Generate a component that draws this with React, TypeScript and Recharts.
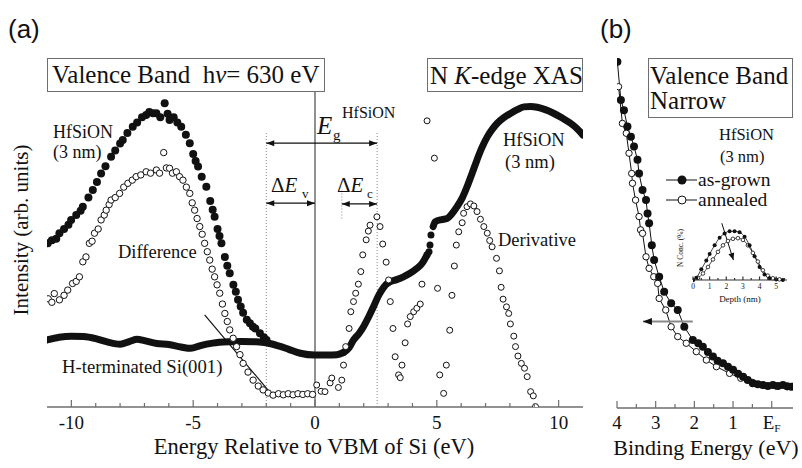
import React from 'react';
import { ComposedChart, Scatter, Line, XAxis, YAxis, ReferenceLine } from 'recharts';

const serif = '"Liberation Serif", "Times New Roman", serif';
const sans = '"Liberation Sans", Arial, sans-serif';
const frame = '#6e6e6e';
const ink = '#111';

// ---------- panel (a): energy relative to VBM of Si (eV) vs intensity (arb. units) ----------
const vbHfSiON = [
  [-10.97, 46.9], [-10.8, 47.8], [-10.62, 48.2], [-10.49, 49.8], [-10.3, 51], [-10.12, 52.2], [-10.01, 53.6],
  [-9.8, 55], [-9.62, 56.2], [-9.53, 57.4], [-9.3, 60], [-9.12, 62.2], [-8.95, 64.5], [-8.78, 66.9], [-8.6, 69],
  [-8.37, 71.7], [-8.2, 73.5], [-8.0, 75.5], [-7.89, 76.5], [-7.7, 78.5], [-7.48, 80.3], [-7.3, 81.5], [-7.1, 83],
  [-6.93, 83.7], [-6.8, 84.5], [-6.65, 84.2], [-6.51, 84.2], [-6.35, 83], [-6.17, 87], [-6.05, 84], [-5.97, 82.2],
  [-5.8, 83], [-5.65, 81.5], [-5.49, 80.3], [-5.3, 78], [-5.14, 75.6], [-5.0, 72.5], [-4.9, 70.5], [-4.8, 68.9],
  [-4.65, 66], [-4.46, 63.1], [-4.3, 59], [-4.2, 56.5], [-4.12, 54.5], [-4.0, 51], [-3.92, 49], [-3.84, 46.9],
  [-3.7, 43], [-3.6, 40.5], [-3.5, 38.3], [-3.35, 35], [-3.25, 33], [-3.16, 30.7], [-3.05, 28.8], [-2.95, 27],
  [-2.8, 25], [-2.67, 24], [-2.55, 23], [-2.45, 22.5], [-2.26, 21.1], [-2.1, 20], [-1.99, 19.2],
];
const vbDifference = [
  [-10.95, 31], [-10.8, 30], [-10.7, 32.5], [-10.49, 30.7], [-10.3, 32], [-10.15, 33.5], [-9.95, 35.4],
  [-9.8, 36], [-9.67, 37.3], [-9.53, 41.6], [-9.4, 43], [-9.26, 46.9], [-9.15, 47.5], [-9.05, 49.8], [-8.9, 51],
  [-8.78, 53.6], [-8.65, 55], [-8.57, 56.4], [-8.45, 58], [-8.37, 59.3], [-8.2, 60], [-8.02, 61.2], [-7.85, 63],
  [-7.68, 64.1], [-7.5, 65], [-7.34, 66], [-7.15, 66.5], [-6.93, 67.4], [-6.75, 67], [-6.51, 67.9], [-6.38, 67],
  [-6.21, 72.9], [-6.1, 68.5], [-5.97, 68.4], [-5.85, 67], [-5.69, 67.4], [-5.56, 66], [-5.42, 65], [-5.28, 63],
  [-5.14, 61.2], [-5.04, 58.5], [-4.94, 56.4], [-4.84, 54], [-4.73, 51.7], [-4.63, 49.5], [-4.53, 46.9],
  [-4.42, 44.5], [-4.32, 42.1], [-4.22, 39.5], [-4.12, 37.3], [-4.02, 35], [-3.91, 32.6], [-3.8, 29.5],
  [-3.7, 26.8], [-3.6, 24.5], [-3.5, 22.1], [-3.36, 19.7], [-3.22, 17.3], [-3.08, 15], [-2.95, 12.5],
  [-2.75, 10], [-2.54, 7.7], [-2.33, 6], [-2.13, 4.9], [-1.92, 4], [-1.72, 3.4], [-1.5, 3.8], [-1.3, 3.5],
  [-1.1, 3.8], [-0.9, 3.5], [-0.7, 3.8], [-0.5, 3.6], [-0.3, 3.8], [-0.1, 3.6],
];
const hTerminatedSi = [
  [-11.0, 19.2], [-10.5, 20.0], [-10.0, 20.3], [-9.5, 20.2], [-9.0, 19.6], [-8.5, 18.6], [-8.0, 18.0],
  [-7.6, 18.8], [-7.3, 19.4], [-7.0, 19.0], [-6.5, 18.2], [-6.0, 17.9], [-5.5, 17.2], [-5.1, 16.8], [-4.7, 17.6],
  [-4.2, 18.3], [-3.5, 18.7], [-3.0, 18.8], [-2.5, 18.7], [-2.0, 18.4], [-1.5, 17.5], [-1.1, 16.6], [-0.6, 15.4],
  [0, 14.9], [0.5, 14.9], [0.9, 15.0], [1.17, 15.6],
];
const tangentVB = [[-4.53, 26.4], [-1.85, 4.2], [-0.2, 4.0]];
const xasLow = [
  [1.17, 15.6], [1.4, 17], [1.58, 19.2], [1.8, 21], [1.99, 23], [2.2, 25.8], [2.4, 28.7], [2.6, 31.8],
  [2.74, 33.5], [2.9, 35], [3.09, 35.9], [3.35, 36.5], [3.63, 37.3], [3.9, 38.3], [4.18, 39.7], [4.4, 41.2], [4.6, 43.6],
];
const xasStep = [[4.6, 43.6], [4.68, 44.5], [4.72, 46.4], [4.76, 49.3]];
const xasHigh = [
  [4.85, 51.7], [4.94, 53.1], [5.2, 53.7], [5.42, 54], [5.6, 55.2], [5.83, 57.4], [6.05, 60], [6.24, 63.1],
  [6.45, 67], [6.65, 70.8], [6.85, 74.3], [7.07, 77.4], [7.28, 79.6], [7.48, 81.3], [7.75, 82.9], [8.02, 84.1],
  [8.3, 85.2], [8.57, 86], [8.85, 86.1], [9.12, 85.9], [9.45, 85.2], [9.81, 84.1], [10.15, 82.8], [10.49, 81.3],
  [10.75, 79.8], [11.0, 77.9],
];
const xasDerivative = [
  [0.07, 6.3], [0.25, 4.5], [0.41, 4.4], [0.62, 6.9], [0.69, 8.3], [0.96, 5.6], [1.1, 7.7], [1.17, 12],
  [1.26, 17.3], [1.4, 22.5], [1.47, 27.3], [1.58, 30.2], [1.67, 32.6], [1.78, 35.2], [1.88, 38.8], [1.96, 43.6],
  [2.1, 47.9], [2.19, 50.4], [2.26, 52.1], [2.54, 54.5], [2.67, 51.7], [2.78, 46.7], [2.92, 41.5], [3.02, 36.4],
  [3.09, 30.2], [3.2, 22.5], [3.29, 14.4], [3.43, 9.2], [3.5, 8.4], [3.57, 12], [3.7, 18.4], [3.8, 23.8],
  [3.91, 25.9], [4.05, 27.3], [4.18, 28.3], [4.32, 29.5], [4.39, 35.2], [4.6, 82], [4.9, 71.3], [5.03, 34],
  [5.12, 9.2], [5.28, 3.9], [5.39, 12], [5.53, 22], [5.62, 32], [5.72, 40.4], [5.8, 46.4], [5.9, 50.2],
  [6.04, 52.8], [6.1, 55.5], [6.24, 57.4], [6.38, 58.2], [6.52, 57.6], [6.65, 56], [6.79, 53.8], [6.93, 51.7],
  [7.07, 49.8], [7.17, 47.7], [7.27, 45.9], [7.45, 42.6], [7.57, 39], [7.64, 34.3], [7.72, 30.9], [7.86, 28.7],
  [7.95, 26.8], [8.02, 23.8], [8.16, 20.3], [8.23, 17.3], [8.33, 14.6], [8.47, 12.5], [8.6, 11.1], [8.71, 8.7],
  [8.85, 4.4], [8.96, 3.2], [9.05, 0.1],
];
const aMinorTicks = [-10, -9, -8, -7, -6, -5, -4, -3, -2, -1, 0, 1, 2, 3, 4, 5, 6, 7, 8, 9, 10];
const aTickValues = [-10, -5, 0, 5, 10];
const aTickLabels = ['-10', '-5', '0', '5', '10'];

// ---------- panel (b): binding energy (eV) ----------
const asGrown = [
  [3.99, 98.9], [3.9, 88], [3.82, 85.1], [3.73, 80.4], [3.64, 77.5], [3.56, 74.7], [3.47, 70.9], [3.43, 67],
  [3.34, 62.3], [3.25, 59.4], [3.21, 55.6], [3.17, 52.8], [3.1, 46.5], [3.04, 42.3], [2.91, 37.5], [2.78, 33.2],
  [2.6, 29.9], [2.43, 28], [2.26, 23.2], [2.04, 19.4], [1.9, 18.5], [1.78, 17.5], [1.65, 16], [1.52, 14.7],
  [1.4, 13.5], [1.26, 12.8], [1.13, 11.8], [1.0, 10.9], [0.87, 9.8], [0.74, 8.9], [0.62, 8], [0.49, 7.1],
  [0.36, 6.8], [0.23, 6.6], [0.1, 6.3], [-0.03, 6.6], [-0.16, 6.3], [-0.29, 6.6], [-0.4, 6.2], [-0.51, 6.1],
];
const annealed = [
  [3.96, 91.8], [3.86, 81.3], [3.76, 78.5], [3.69, 72.8], [3.62, 67], [3.6, 64.2], [3.52, 59.4], [3.43, 54.7],
  [3.39, 50.9], [3.34, 49.9], [3.25, 43.2], [3.17, 39.9], [3.05, 37.5], [2.95, 35.6], [2.91, 31.3], [2.74, 28],
  [2.6, 23.2], [2.43, 20.4], [2.21, 18.5], [1.95, 16.1], [1.69, 13.7], [1.43, 11.8], [1.09, 9.9], [0.8, 8.5],
  [0.5, 7.3], [0.2, 6.5], [-0.1, 6.3], [-0.4, 6.1],
];
const bMinorTicks = [4, 3.5, 3, 2.5, 2, 1.5, 1, 0.5, 0];
const bTickValues = [4, 3, 2, 1, 0];
const bTickLabels = ['4', '3', '2', '1', 'EF'];

// ---------- inset: N concentration (%) vs depth (nm) ----------
const depthAsGrown = [
  [0, 0], [0.2, 1], [0.5, 5], [0.8, 9], [1.0, 12], [1.3, 16], [1.6, 19.5], [1.9, 21.5], [2.2, 22.5], [2.5, 22.5],
  [2.8, 22], [3.1, 20], [3.4, 16], [3.7, 11], [4.0, 6], [4.3, 2.5], [4.6, 0.8], [5.0, 0.2], [5.4, 0],
];
const depthAnnealed = [
  [0, 0], [0.3, 1], [0.6, 3], [0.9, 6], [1.2, 9.5], [1.5, 13], [1.8, 16], [2.1, 18], [2.4, 19], [2.7, 19.3],
  [3.0, 18.5], [3.3, 16], [3.6, 12.5], [3.9, 8.5], [4.2, 4.5], [4.5, 2], [4.8, 0.8], [5.2, 0.3],
];
const insetXMinor = [0, 0.5, 1, 1.5, 2, 2.5, 3, 3.5, 4, 4.5, 5, 5.5];
const insetXValues = [0, 1, 2, 3, 4, 5];
const insetXLabels = ['0', '1', '2', '3', '4', '5'];
const insetYMinor = [0, 5, 10, 15, 20, 25, 30];
const insetYValues = [0, 10, 20, 30];
const insetYLabels = ['0', '10', '20', '30'];

const toPts = (a: number[][]) => a.map(([x, y]) => ({ x, y }));
const labelMap = (vals: number[], labs: string[]) => {
  const m: Record<string, string> = {};
  vals.forEach((v, i) => (m[String(v)] = labs[i]));
  return m;
};

const renderLabel = (lab: string, size: number) =>
  lab === 'EF' ? (
    <>E<tspan dy={3} fontSize={size * 0.6}>F</tspan></>
  ) : (
    lab
  );

// ticks pointing into the plot; dir 1 = bottom axis, -1 = top axis
const xTick = (labels: Record<string, string>, major: number, minor: number, size: number, dir: number, gap: number, show: boolean, col = frame) =>
  (p: any) => {
    const lab = labels[String(p.payload.value)];
    const len = lab !== undefined ? major : minor;
    return (
      <g>
        <line x1={p.x} x2={p.x} y1={p.y} y2={p.y - dir * len} stroke={col} strokeWidth={1.2} />
        {show && lab !== undefined && (
          <text x={p.x} y={p.y + gap} textAnchor="middle" fontFamily={serif} fontSize={size} fill={ink}>
            {renderLabel(lab, size)}
          </text>
        )}
      </g>
    );
  };
const yTick = (labels: Record<string, string>, major: number, minor: number, size: number, dir: number, show: boolean) =>
  (p: any) => {
    const lab = labels[String(p.payload.value)];
    const len = lab !== undefined ? major : minor;
    return (
      <g>
        <line x1={p.x} x2={p.x + dir * len} y1={p.y} y2={p.y} stroke="#333" strokeWidth={0.9} />
        {show && lab !== undefined && (
          <text x={p.x - 2} y={p.y + 2.5} textAnchor="end" fontFamily={serif} fontSize={size} fill={ink}>
            {lab}
          </text>
        )}
      </g>
    );
  };

const filledDot = (r: number) => (p: any) => <circle cx={p.cx} cy={p.cy} r={r} fill={ink} />;
const openDot = (r: number, sw = 1) => (p: any) => (
  <circle cx={p.cx} cy={p.cy} r={r} fill="#fff" stroke={ink} strokeWidth={sw} />
);

const arrow = (atStart: boolean, atEnd: boolean, color: string, sw: number, len = 8, half = 3, headColor = ink) =>
  (p: any) => {
    const { x1, y1, x2, y2 } = p;
    const head = (tx: number, ty: number, fx: number, fy: number) => {
      const L = Math.hypot(tx - fx, ty - fy) || 1;
      const ux = (tx - fx) / L;
      const uy = (ty - fy) / L;
      const bx = tx - ux * len;
      const by = ty - uy * len;
      return `${tx},${ty} ${bx - uy * half},${by + ux * half} ${bx + uy * half},${by - ux * half}`;
    };
    return (
      <g>
        <line x1={x1} y1={y1} x2={x2} y2={y2} stroke={color} strokeWidth={sw} />
        {atStart && <polygon points={head(x1, y1, x2, y2)} fill={headColor} />}
        {atEnd && <polygon points={head(x2, y2, x1, y1)} fill={headColor} />}
      </g>
    );
  };

const T = (props: { x: number; y: number; size: number; children: React.ReactNode; font?: string; style?: React.CSSProperties }) => (
  <div
    style={{
      position: 'absolute', left: props.x, top: props.y, fontSize: props.size, lineHeight: 1,
      fontFamily: props.font || serif, color: ink, whiteSpace: 'nowrap', ...props.style,
    }}
  >
    {props.children}
  </div>
);

const aLabels = labelMap(aTickValues, aTickLabels);
const bLabels = labelMap(bTickValues, bTickLabels);
const ixLabels = labelMap(insetXValues, insetXLabels);
const iyLabels = labelMap(insetYValues, insetYLabels);
const axisStyle = { stroke: frame, strokeWidth: 1.5 };
const insetAxis = { stroke: '#333', strokeWidth: 1.1 };
const abs: React.CSSProperties = { position: 'absolute', left: 0, top: 0 };
const boxStyle = (l: number, t: number, w: number, h: number): React.CSSProperties => ({
  position: 'absolute', left: l, top: t, width: w, height: h, border: `1.5px solid ${frame}`, background: '#fff', boxSizing: 'border-box',
});

export default function App() {
  return (
    <div style={{ position: 'absolute', left: 0, top: 0, width: 802, height: 468, background: '#fff', overflow: 'hidden' }}>
      {/* panel (a) */}
      <div style={abs}>
        <ComposedChart width={802} height={468} margin={{ top: 58, right: 219, bottom: 31, left: 47 }}>
          <XAxis xAxisId="b" type="number" dataKey="x" domain={[-11, 11]} ticks={aMinorTicks} interval={0}
            tickLine={false} tickSize={0} tickMargin={0} height={30} axisLine={axisStyle} allowDataOverflow
            tick={xTick(aLabels, 7, 4, 19, 1, 22, true)} />
          <XAxis xAxisId="t" orientation="top" type="number" dataKey="x" domain={[-11, 11]} ticks={aMinorTicks}
            interval={0} tickLine={false} tickSize={0} tickMargin={0} height={0} axisLine={axisStyle} allowDataOverflow
            tick={xTick(aLabels, 6, 4, 19, -1, 0, false)} />
          <YAxis yAxisId="l" type="number" dataKey="y" domain={[0, 100]} width={0} tick={false} tickLine={false} axisLine={axisStyle} allowDataOverflow />
          <YAxis yAxisId="r" orientation="right" type="number" domain={[0, 100]} width={0} tick={false} tickLine={false} axisLine={axisStyle} />

          <ReferenceLine xAxisId="b" yAxisId="l" segment={[{ x: 0, y: 0 }, { x: 0, y: 90.3 }]} stroke="#555" strokeWidth={1.3} ifOverflow="visible" />
          <ReferenceLine xAxisId="b" yAxisId="l" segment={[{ x: -2, y: 0 }, { x: -2, y: 78.5 }]} stroke="#888" strokeWidth={1} strokeDasharray="1 2" ifOverflow="visible" />
          <ReferenceLine xAxisId="b" yAxisId="l" segment={[{ x: 2.55, y: 0 }, { x: 2.55, y: 79 }]} stroke="#888" strokeWidth={1} strokeDasharray="1 2" ifOverflow="visible" />
          <ReferenceLine xAxisId="b" yAxisId="l" segment={[{ x: 1.1, y: 54 }, { x: 1.1, y: 62.5 }]} stroke="#888" strokeWidth={1} strokeDasharray="1 2" ifOverflow="visible" />

          <Line xAxisId="b" yAxisId="l" data={toPts(hTerminatedSi)} dataKey="y" type="monotone" stroke={ink} strokeWidth={7} strokeLinecap="round" dot={false} isAnimationActive={false} />
          <Scatter xAxisId="b" yAxisId="l" data={toPts(vbHfSiON)} dataKey="y" shape={filledDot(4)} isAnimationActive={false} />
          <Line xAxisId="b" yAxisId="l" data={toPts(tangentVB)} dataKey="y" type="linear" stroke={ink} strokeWidth={1.2} dot={false} isAnimationActive={false} />
          <Scatter xAxisId="b" yAxisId="l" data={toPts(vbDifference)} dataKey="y" shape={openDot(3.2)} isAnimationActive={false} />
          <Scatter xAxisId="b" yAxisId="l" data={toPts(xasDerivative)} dataKey="y" shape={openDot(3)} isAnimationActive={false} />
          <Line xAxisId="b" yAxisId="l" data={toPts(xasLow)} dataKey="y" type="monotone" stroke={ink} strokeWidth={7} strokeLinecap="round" dot={false} isAnimationActive={false} />
          <Scatter xAxisId="b" yAxisId="l" data={toPts(xasStep)} dataKey="y" shape={filledDot(3.5)} isAnimationActive={false} />
          <Line xAxisId="b" yAxisId="l" data={toPts(xasHigh)} dataKey="y" type="monotone" stroke={ink} strokeWidth={7} strokeLinecap="round" dot={false} isAnimationActive={false} />

          <ReferenceLine xAxisId="b" yAxisId="l" segment={[{ x: -2, y: 75.6 }, { x: 2.55, y: 75.6 }]} shape={arrow(true, true, ink, 1.2)} ifOverflow="visible" />
          <ReferenceLine xAxisId="b" yAxisId="l" segment={[{ x: -2, y: 58.4 }, { x: 0, y: 58.4 }]} shape={arrow(true, true, ink, 1.2)} ifOverflow="visible" />
          <ReferenceLine xAxisId="b" yAxisId="l" segment={[{ x: 1.1, y: 58.2 }, { x: 2.55, y: 58.2 }]} shape={arrow(true, true, ink, 1.2)} ifOverflow="visible" />
        </ComposedChart>
      </div>

      {/* panel (b) */}
      <div style={abs}>
        <ComposedChart width={802} height={468} margin={{ top: 58, right: 9, bottom: 30, left: 617 }}>
          <XAxis xAxisId="b" type="number" dataKey="x" domain={[-0.55, 4]} reversed ticks={bMinorTicks} interval={0}
            tickLine={false} tickSize={0} tickMargin={0} height={30} axisLine={axisStyle} allowDataOverflow
            tick={xTick(bLabels, 7, 4, 19, 1, 21, true)} />
          <XAxis xAxisId="t" orientation="top" type="number" dataKey="x" domain={[-0.55, 4]} reversed ticks={bMinorTicks}
            interval={0} tickLine={false} tickSize={0} tickMargin={0} height={0} axisLine={axisStyle} allowDataOverflow
            tick={xTick(bLabels, 6, 4, 19, -1, 0, false)} />
          <YAxis yAxisId="l" type="number" dataKey="y" domain={[0, 100]} width={0} tick={false} tickLine={false} axisLine={axisStyle} allowDataOverflow />
          <YAxis yAxisId="r" orientation="right" type="number" domain={[0, 100]} width={0} tick={false} tickLine={false} axisLine={axisStyle} />

          <Line xAxisId="b" yAxisId="l" data={toPts(annealed)} dataKey="y" type="linear" stroke={ink} strokeWidth={1}
            dot={{ r: 3.2, fill: '#fff', stroke: ink, strokeWidth: 1 }} isAnimationActive={false} />
          <Line xAxisId="b" yAxisId="l" data={toPts(asGrown)} dataKey="y" type="linear" stroke={ink} strokeWidth={1}
            dot={{ r: 4, fill: ink, stroke: ink, strokeWidth: 0 }} isAnimationActive={false} />
          <ReferenceLine xAxisId="b" yAxisId="l" segment={[{ x: 2.04, y: 24.7 }, { x: 3.33, y: 24.7 }]} shape={arrow(false, true, '#8a8a8a', 2, 9, 3.5)} ifOverflow="visible" />
        </ComposedChart>
      </div>

      {/* inset */}
      <div style={abs}>
        <ComposedChart width={802} height={468} margin={{ top: 215, right: 15, bottom: 176, left: 693 }}>
          <XAxis xAxisId="b" type="number" dataKey="x" domain={[0, 5.65]} ticks={insetXMinor} interval={0}
            tickLine={false} tickSize={0} tickMargin={0} height={12} axisLine={{ stroke: '#999', strokeWidth: 2 }} allowDataOverflow
            tick={xTick(ixLabels, 3.5, 2, 7.5, 1, 9, true, '#333')} />
          <XAxis xAxisId="t" orientation="top" type="number" dataKey="x" domain={[0, 5.65]} ticks={insetXMinor}
            interval={0} tickLine={false} tickSize={0} tickMargin={0} height={0} axisLine={insetAxis} allowDataOverflow
            tick={xTick(ixLabels, 3.5, 2, 7, -1, 0, false, '#333')} />
          <YAxis yAxisId="l" type="number" dataKey="y" domain={[0, 30]} ticks={insetYMinor} interval={0} width={0}
            tickLine={false} tickSize={0} tickMargin={0} axisLine={insetAxis}
            tick={yTick(iyLabels, 3.5, 2, 7, 1, true)} />
          <YAxis yAxisId="r" orientation="right" type="number" domain={[0, 30]} ticks={insetYMinor} interval={0} width={0}
            tickLine={false} tickSize={0} tickMargin={0} axisLine={insetAxis}
            tick={yTick(iyLabels, 3.5, 2, 7, -1, false)} />

          <Line xAxisId="b" yAxisId="l" data={toPts(depthAnnealed)} dataKey="y" type="monotone" stroke={ink} strokeWidth={0.8}
            dot={{ r: 1.8, fill: '#fff', stroke: ink, strokeWidth: 0.8 }} isAnimationActive={false} />
          <Line xAxisId="b" yAxisId="l" data={toPts(depthAsGrown)} dataKey="y" type="monotone" stroke={ink} strokeWidth={0.8}
            dot={{ r: 2, fill: ink, stroke: ink, strokeWidth: 0 }} isAnimationActive={false} />
          <ReferenceLine xAxisId="b" yAxisId="l" segment={[{ x: 1.73, y: 26.2 }, { x: 2.43, y: 9.2 }]} shape={arrow(false, true, ink, 1, 7, 3)} ifOverflow="visible" />
        </ComposedChart>
      </div>

      {/* text overlays */}
      <T x={8} y={16} size={26} font={sans}>(a)</T>
      <T x={600} y={16} size={26} font={sans}>(b)</T>

      <div style={boxStyle(47, 58, 278, 34)} />
      <T x={52} y={62} size={25}>Valence Band&nbsp; h<i>ν</i>= 630 eV</T>
      <div style={boxStyle(427, 58, 156, 34)} />
      <T x={430} y={63} size={25}>N <i>K</i>-edge XAS</T>

      <T x={53} y={123} size={18}>HfSiON</T>
      <T x={53} y={143} size={18}>(3 nm)</T>
      <T x={118} y={243} size={18.5}>Difference</T>
      <T x={62} y={358} size={18.7}>H-terminated Si(001)</T>
      <T x={503} y={131} size={18.5}>HfSiON</T>
      <T x={505} y={153} size={18.5}>(3 nm)</T>
      <T x={498} y={231} size={18.5}>Derivative</T>

      <T x={317} y={113} size={25}><i>E</i></T>
      <T x={333} y={128} size={15}>g</T>
      <T x={342} y={105} size={16}>HfSiON</T>
      <T x={271} y={175} size={21}>Δ<i>E</i></T>
      <T x={302} y={187} size={13}>v</T>
      <T x={337} y={175} size={21}>Δ<i>E</i></T>
      <T x={367} y={187} size={13}>c</T>

      <T x={21} y={230} size={21} style={{ transform: 'translate(-50%, -50%) rotate(-90deg)' }}>Intensity (arb. units)</T>
      <T x={314} y={447} size={22.5} style={{ transform: 'translate(-50%, -50%)' }}>Energy Relative to VBM of Si (eV)</T>
      <T x={706} y={448} size={22} style={{ transform: 'translate(-50%, -50%)' }}>Binding Energy (eV)</T>

      <div style={boxStyle(648, 58, 145, 60)} />
      <T x={650} y={63} size={25}>Valence Band</T>
      <T x={650} y={88} size={25}>Narrow</T>
      <T x={719} y={127} size={16.5}>HfSiON</T>
      <T x={720} y={149} size={16.5}>(3 nm)</T>
      <svg style={{ position: 'absolute', left: 662, top: 170 }} width={40} height={40}>
        <line x1={4} x2={35} y1={10} y2={10} stroke={ink} strokeWidth={1} />
        <circle cx={20} cy={10} r={4.5} fill={ink} />
        <line x1={4} x2={35} y1={30} y2={30} stroke={ink} strokeWidth={1} />
        <circle cx={20} cy={30} r={4} fill="#fff" stroke={ink} strokeWidth={1} />
      </svg>
      <T x={698} y={170} size={19.5}>as-grown</T>
      <T x={698} y={190} size={19.5}>annealed</T>
      <T x={681} y={248} size={7.5} style={{ transform: 'translate(-50%, -50%) rotate(-90deg)' }}>N Conc. (%)</T>
      <T x={740} y={299} size={9} style={{ transform: 'translate(-50%, -50%)' }}>Depth (nm)</T>
    </div>
  );
}
